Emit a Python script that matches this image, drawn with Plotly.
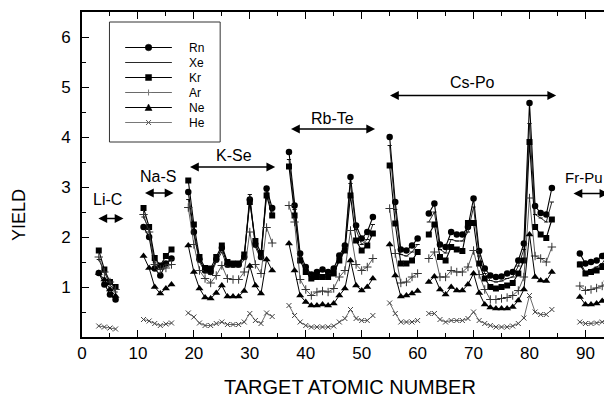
import plotly.graph_objects as go

# Target atomic number (None = gap between groups)
Z = [3, 4, 5, 6, None,
     11, 12, 13, 14, 15, 16, None,
     19, 20, 21, 22, 23, 24, 25, 26, 27, 28, 29, 30, 31, 32, 33, 34, None,
     37, 38, 39, 40, 41, 42, 43, 44, 45, 46, 47, 48, 49, 50, 51, 52, None,
     55, 56, 57, 58, 59, 60, None,
     62, 63, 64, 65, 66, 67, 68, 69, 70, 71, 72, 73, 74, 75, 76, 77, 78, 79, 80, 81, 82, 83, 84, None,
     89, 90, 91, 92, 93, 94]

RN = [1.28, 1.05, 0.85, 0.75, None,
      2.2, 2.0, 1.37, 1.23, 1.47, 1.57, None,
      2.9, 2.1, 1.55, 1.33, 1.3, 1.55, 1.78, 1.45, 1.45, 1.45, 1.6, 2.75, 1.85, 1.6, 2.97, 2.58, None,
      3.70, 2.63, 1.67, 1.40, 1.25, 1.30, 1.35, 1.30, 1.37, 1.63, 1.83, 3.2, 2.23, 1.97, 2.1, 2.4, None,
      4.0, 2.7, 1.75, 1.73, 1.83, 1.97, None,
      2.47, 2.67, 1.85, 1.8, 2.1, 2.05, 2.05, 2.2, 2.77, 1.72, 1.37, 1.23, 1.2, 1.21, 1.27, 1.3, 1.53, 1.87, 4.68, 2.62, 2.48, 2.45, 2.98, None,
      1.67, 1.47, 1.5, 1.53, 1.62, 1.8]

XE = [1.55, 1.3, 1.05, 0.9, None,
      2.4, 2.15, 1.5, 1.35, 1.45, 1.55, None,
      2.75, 2.05, 1.5, 1.3, 1.25, 1.5, 1.7, 1.4, 1.4, 1.4, 1.55, 2.85, 1.8, 1.55, 2.9, 2.5, None,
      3.55, 2.55, 1.6, 1.35, 1.2, 1.25, 1.25, 1.25, 1.3, 1.55, 1.78, 3.07, 2.15, 1.85, 1.95, 2.25, None,
      3.83, 2.55, 1.65, 1.62, 1.7, 1.85, None,
      2.3, 2.5, 1.75, 1.68, 1.95, 1.92, 1.92, 2.1, 2.6, 1.62, 1.27, 1.13, 1.1, 1.12, 1.17, 1.2, 1.42, 1.75, 4.27, 2.45, 2.38, 2.3, 2.7, None,
      1.5, 1.3, 1.35, 1.4, 1.47, 1.65]

KR = [1.73, 1.35, 1.1, 1.0, None,
      2.58, 2.2, 1.58, 1.43, 1.62, 1.75, None,
      3.13, 2.25, 1.6, 1.38, 1.37, 1.6, 1.83, 1.5, 1.47, 1.47, 1.65, 2.7, 1.92, 1.68, 2.83, 2.43, None,
      3.41, 2.43, 1.53, 1.30, 1.17, 1.2, 1.2, 1.2, 1.27, 1.53, 1.73, 2.83, 1.93, 1.73, 1.83, 2.07, None,
      3.43, 2.27, 1.47, 1.47, 1.53, 1.70, None,
      2.05, 2.25, 1.6, 1.53, 1.8, 1.75, 1.72, 2.28, 2.28, 1.47, 1.17, 1.0, 0.97, 1.0, 1.03, 1.08, 1.27, 1.53, 3.9, 2.2, 2.05, 1.98, 2.35, None,
      1.45, 1.27, 1.3, 1.33, 1.4, 1.55]

AR = [1.6, 1.3, 1.1, 0.95, None,
      2.45, 2.1, 1.45, 1.35, 1.38, 1.45, None,
      2.59, 1.85, 1.33, 1.17, 1.08, 1.23, 1.43, 1.17, 1.15, 1.15, 1.30, 2.1, 1.45, 1.27, 2.19, 1.88, None,
      2.63, 2.3, 1.15, 0.95, 0.83, 0.9, 0.92, 0.9, 0.97, 1.2, 1.33, 2.13, 1.45, 1.33, 1.4, 1.57, None,
      2.57, 1.67, 1.08, 1.1, 1.2, 1.27, None,
      1.57, 1.7, 1.2, 1.2, 1.33, 1.3, 1.3, 1.4, 1.73, 1.25, 0.95, 0.75, 0.75, 0.77, 0.79, 0.83, 0.93, 1.2, 2.78, 1.62, 1.57, 1.5, 1.8, None,
      1.02, 0.93, 0.95, 0.98, 1.02, 1.12]

NE = [1.28, 1.15, 0.95, 0.82, None,
      1.62, 1.38, 1.0, 0.87, 0.97, 1.05, None,
      1.83, 1.3, 0.97, 0.79, 0.77, 0.88, 1.03, 0.81, 0.81, 0.81, 0.92, 1.42, 1.03, 0.87, 1.55, 1.33, None,
      1.87, 1.33, 0.83, 0.70, 0.63, 0.63, 0.65, 0.63, 0.67, 0.83, 0.97, 1.53, 1.03, 0.93, 1.0, 1.17, None,
      1.85, 1.23, 0.81, 0.83, 0.87, 0.92, None,
      1.1, 1.21, 0.95, 0.85, 1.0, 0.93, 0.93, 1.05, 1.27, 0.88, 0.65, 0.59, 0.57, 0.57, 0.57, 0.6, 0.73, 0.95, 2.05, 1.2, 1.13, 1.12, 1.3, None,
      0.8, 0.65, 0.65, 0.67, 0.72, 0.82]

HE = [0.22, 0.2, 0.18, 0.16, None,
      0.35, 0.32, 0.27, 0.23, 0.26, 0.28, None,
      0.48, 0.40, 0.28, 0.23, 0.23, 0.27, 0.30, 0.25, 0.25, 0.25, 0.30, 0.47, 0.33, 0.27, 0.48, 0.41, None,
      0.63, 0.43, 0.30, 0.23, 0.20, 0.20, 0.20, 0.20, 0.22, 0.30, 0.37, 0.55, 0.37, 0.33, 0.33, 0.43, None,
      0.68, 0.47, 0.30, 0.30, 0.30, 0.33, None,
      0.47, 0.47, 0.35, 0.3, 0.33, 0.33, 0.33, 0.37, 0.5, 0.33, 0.27, 0.23, 0.2, 0.2, 0.2, 0.22, 0.27, 0.38, 0.83, 0.5, 0.45, 0.45, 0.55, None,
      0.3, 0.27, 0.27, 0.28, 0.3, 0.35]

SERIES = ["Rn", "Xe", "Kr", "Ar", "Ne", "He"]

# Region labels and arrow extents
REGIONS = ["Li-C", "Na-S", "K-Se", "Rb-Te", "Cs-Po", "Fr-Pu"]
REG_X0 = [2.66, 10.99, 19.04, 37.1, 54.8, 87.6]
REG_X1 = [7.42, 16.36, 34.54, 52.4, 84.77, 94.1]
REG_Y = [2.37, 2.88, 3.40, 4.16, 4.83, 2.87]
REG_TX = [4.5, 13.6, 27.1, 44.7, 69.8, 89.8]
REG_TY = [2.75, 3.21, 3.63, 4.37, 5.10, 3.19]

FONT = "Liberation Sans, Arial, sans-serif"

styles = {
    "Rn": dict(line=dict(color="black", width=1.1), marker=dict(symbol="circle", size=6.5, color="black")),
    "Xe": dict(line=dict(color="#111", width=0.9), marker=dict(symbol="line-ew", size=3, line=dict(color="#111", width=1))),
    "Kr": dict(line=dict(color="black", width=1.1), marker=dict(symbol="square", size=6, color="black")),
    "Ar": dict(line=dict(color="#333", width=0.8), marker=dict(symbol="cross-thin", size=6, line=dict(color="#333", width=1))),
    "Ne": dict(line=dict(color="black", width=1.0), marker=dict(symbol="triangle-up", size=7, color="black")),
    "He": dict(line=dict(color="#444", width=0.8), marker=dict(symbol="x-thin", size=5, line=dict(color="#444", width=1))),
}
data = {"Rn": RN, "Xe": XE, "Kr": KR, "Ar": AR, "Ne": NE, "He": HE}

fig = go.Figure()
for name in SERIES:
    st = styles[name]
    fig.add_trace(go.Scatter(x=Z, y=data[name], mode="lines+markers", name=name,
                             line=st["line"], marker=st["marker"], connectgaps=False,
                             showlegend=False))

annotations = []
for lab, x0, x1, y, tx, ty in zip(REGIONS, REG_X0, REG_X1, REG_Y, REG_TX, REG_TY):
    annotations.append(dict(x=x1, y=y, ax=x0, ay=y, xref="x", yref="y", axref="x", ayref="y",
                            text="", showarrow=True, arrowhead=2, arrowside="end+start",
                            arrowsize=1.1, arrowwidth=1.6, arrowcolor="black",
                            standoff=0, startstandoff=0))
    annotations.append(dict(x=tx, y=ty, xref="x", yref="y", text=lab, showarrow=False,
                            font=dict(family=FONT, size=16 if lab != "Fr-Pu" else 15, color="black"),
                            xanchor="center", yanchor="middle"))

# Manual legend
shapes = []
LEG_BOX = (4.91, 24.7, 3.9, 6.3)
shapes.append(dict(type="rect", xref="x", yref="y", x0=LEG_BOX[0], x1=LEG_BOX[1],
                   y0=LEG_BOX[2], y1=LEG_BOX[3], line=dict(color="#333", width=1),
                   fillcolor="white", layer="above"))
ROW_Y = [5.79, 5.49, 5.19, 4.89, 4.59, 4.29]
LX0, LX1, LXM, LXT = 7.72, 16.07, 11.9, 18.75
leg_line = {"Rn": ("black", 1.1), "Xe": ("#111", 0.9), "Kr": ("black", 1.1),
            "Ar": ("#444", 0.8), "Ne": ("black", 1.0), "He": ("#555", 0.8)}
for name, ry in zip(SERIES, ROW_Y):
    c, w = leg_line[name]
    shapes.append(dict(type="line", xref="x", yref="y", x0=LX0, x1=LX1, y0=ry, y1=ry,
                       line=dict(color=c, width=w), layer="above"))
    common = dict(xref="x", yref="y", xsizemode="pixel", ysizemode="pixel",
                  xanchor=LXM, yanchor=ry, layer="above")
    if name == "Rn":
        shapes.append(dict(type="circle", x0=-3.3, x1=3.3, y0=-3.3, y1=3.3,
                           fillcolor="black", line=dict(color="black", width=0.5), **common))
    elif name == "Kr":
        shapes.append(dict(type="rect", x0=-3, x1=3, y0=-3, y1=3,
                           fillcolor="black", line=dict(color="black", width=0.5), **common))
    elif name == "Ne":
        shapes.append(dict(type="path", path="M-3.5,-3 L3.5,-3 L0,3.5 Z",
                           fillcolor="black", line=dict(color="black", width=0.5), **common))
    elif name == "Ar":
        shapes.append(dict(type="path", path="M-3,0 L3,0 M0,-3 L0,3",
                           line=dict(color="#777", width=1), **common))
    elif name == "He":
        shapes.append(dict(type="path", path="M-2.5,-2.5 L2.5,2.5 M-2.5,2.5 L2.5,-2.5",
                           line=dict(color="#555", width=1), **common))
    annotations.append(dict(x=LXT, y=ry, xref="x", yref="y", text=name, showarrow=False,
                            xanchor="left", yanchor="middle",
                            font=dict(family=FONT, size=12, color="black")))

# Axis titles (positions in the 612x398 window; plot area spans x 82..612, y 12..337)
annotations.append(dict(x=(349.7 - 82) / 530, y=(337 - 387) / 325, xref="paper", yref="paper",
                        text="TARGET ATOMIC NUMBER", showarrow=False, xanchor="center",
                        yanchor="middle", font=dict(family=FONT, size=20, color="black")))
annotations.append(dict(x=(19 - 82) / 530, y=(337 - 215) / 325, xref="paper", yref="paper",
                        text="YIELD", showarrow=False, xanchor="center", yanchor="middle",
                        textangle=-90, font=dict(family=FONT, size=18, color="black")))

axis_common = dict(showline=True, linecolor="black", linewidth=1.6, mirror="ticks",
                   ticks="inside", ticklen=7, tickwidth=1.4, tickcolor="black",
                   showgrid=False, zeroline=False,
                   tickfont=dict(family=FONT, size=17, color="black"))

# The page body has an 8px margin, so the figure is sized 8px smaller than the window
fig.update_layout(
    width=604, height=390,
    margin=dict(l=74, r=0, t=4, b=61, autoexpand=False),
    paper_bgcolor="white", plot_bgcolor="white",
    xaxis=dict(range=[0, 94.75], tickvals=[0, 10, 20, 30, 40, 50, 60, 70, 80, 90],
               minor=dict(dtick=5, tick0=0, ticks="inside", ticklen=4, tickwidth=1.2, tickcolor="black"),
               ticklabelstandoff=0, **axis_common),
    yaxis=dict(range=[0, 6.5], tickvals=[1, 2, 3, 4, 5, 6],
               minor=dict(dtick=0.5, tick0=0, ticks="inside", ticklen=4, tickwidth=1.2, tickcolor="black"),
               ticklabelstandoff=6, **axis_common),
    shapes=shapes, annotations=annotations, showlegend=False,
)

fig.write_html("out.html")
